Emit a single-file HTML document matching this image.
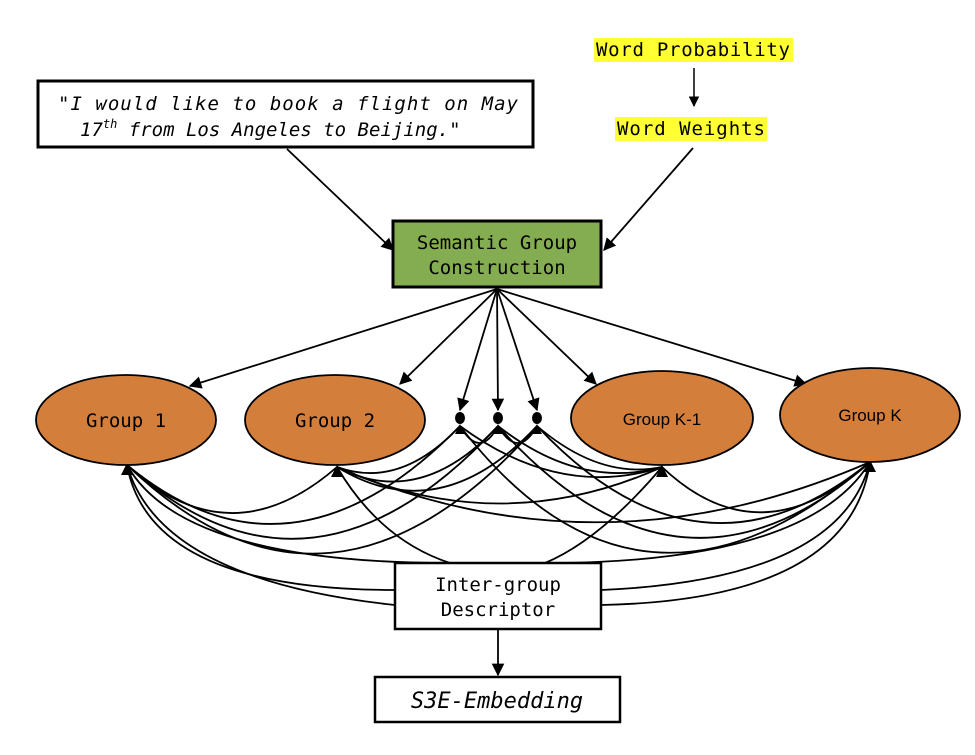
<!DOCTYPE html>
<html><head><style>
body{margin:0;background:#fff}
svg text{font-family:"DejaVu Sans Mono","Liberation Mono",monospace;font-size:19px;fill:#000}
</style></head><body>
<svg width="975" height="750" xmlns="http://www.w3.org/2000/svg">
<defs><marker id="a" viewBox="0 0 10 10" refX="9" refY="5" markerWidth="7" markerHeight="7" orient="auto"><path d="M0,0 L10,5 L0,10 z" fill="#000"/></marker></defs>
<rect x="594" y="38" width="199" height="24" fill="#ffff33"/>
<rect x="615" y="117" width="152" height="24" fill="#ffff33"/>
<text x="596" y="56" textLength="194">Word Probability</text>
<text x="617" y="135" textLength="148">Word Weights</text>
<line x1="694" y1="68" x2="694" y2="106" stroke="#000" stroke-width="1.5" marker-end="url(#a)"/>
<rect x="38" y="81" width="495" height="66" fill="#fff" stroke="#000" stroke-width="3"/>
<text x="58" y="110" font-style="italic" textLength="460">"I would like to book a flight on May</text>
<text x="80" y="136" font-style="italic">17<tspan font-size="12" dy="-8">th</tspan><tspan dy="8"> from Los Angeles to Beijing."</tspan></text>
<line x1="287" y1="149" x2="393" y2="250" stroke="#000" stroke-width="1.8" marker-end="url(#a)"/>
<line x1="693" y1="148" x2="604" y2="250" stroke="#000" stroke-width="1.8" marker-end="url(#a)"/>
<rect x="393" y="221" width="208" height="66" fill="#84ac50" stroke="#000" stroke-width="3"/>
<text x="497" y="249" text-anchor="middle">Semantic Group</text>
<text x="497" y="274" text-anchor="middle">Construction</text>
<g stroke="#000" stroke-width="1.8" marker-end="url(#a)">
<line x1="497" y1="289" x2="190" y2="386"/>
<line x1="497" y1="289" x2="400" y2="384"/>
<line x1="497" y1="289" x2="460" y2="410"/>
<line x1="497" y1="289" x2="498" y2="410"/>
<line x1="497" y1="289" x2="537" y2="410"/>
<line x1="497" y1="289" x2="596" y2="384"/>
<line x1="497" y1="289" x2="806" y2="384"/>
</g>
<g fill="none" stroke="#000" stroke-width="1.8">
<path d="M127,465 Q230,560 337,467"/>
<path d="M127,465 Q290,600 460,426"/>
<path d="M127,465 Q310,630 498,426"/>
<path d="M127,465 Q330,660 537,426"/>
<path d="M127,465 Q160,580 395,605"/>
<path d="M127,465 Q150,590 395,590"/>
<path d="M127,465 Q180,560 435,563"/>
<path d="M337,467 Q400,490 460,426"/>
<path d="M337,467 Q420,510 498,426"/>
<path d="M337,467 Q440,530 537,426"/>
<path d="M337,467 Q500,540 662,467"/>
<path d="M337,467 Q600,580 870,462"/>
<path d="M337,467 Q380,540 450,563"/>
<path d="M460,426 Q480,460 498,426"/>
<path d="M498,426 Q518,460 537,426"/>
<path d="M460,426 Q560,500 662,467"/>
<path d="M498,426 Q580,490 662,467"/>
<path d="M537,426 Q600,480 662,467"/>
<path d="M460,426 Q640,660 870,462"/>
<path d="M498,426 Q680,630 870,462"/>
<path d="M537,426 Q700,600 870,462"/>
<path d="M662,467 Q760,560 870,462"/>
<path d="M662,467 Q600,540 545,563"/>
<path d="M870,462 Q840,580 601,590"/>
<path d="M870,462 Q850,600 601,605"/>
<path d="M870,462 Q810,560 560,563"/>
</g>
<g fill="#000">
<path d="M127,463 l-6,12 l12,0z"/><path d="M337,465 l-6,12 l12,0z"/><path d="M662,465 l-6,12 l12,0z"/><path d="M870,460 l-6,12 l12,0z"/>
<path d="M460,424 l-5,10 l10,0z"/><path d="M498,424 l-5,10 l10,0z"/><path d="M537,424 l-5,10 l10,0z"/>
<ellipse cx="460" cy="418" rx="5" ry="6"/><ellipse cx="498" cy="418" rx="5" ry="6"/><ellipse cx="537" cy="418" rx="5" ry="6"/>
</g>
<g fill="#d47e3c" stroke="#000" stroke-width="1.8">
<ellipse cx="126" cy="420" rx="90" ry="45"/>
<ellipse cx="335" cy="420" rx="90" ry="45"/>
<ellipse cx="662" cy="418" rx="91" ry="47"/>
<ellipse cx="870" cy="415" rx="90" ry="47"/>
</g>
<text x="126" y="427" text-anchor="middle">Group 1</text>
<text x="335" y="427" text-anchor="middle">Group 2</text>
<text x="662" y="425" text-anchor="middle" style="font-family:'Liberation Sans',sans-serif;font-size:17px">Group K-1</text>
<text x="870" y="421" text-anchor="middle" style="font-family:'Liberation Sans',sans-serif;font-size:17px">Group K</text>
<rect x="395" y="563" width="206" height="66" fill="#fff" stroke="#000" stroke-width="2.5"/>
<text x="498" y="591" text-anchor="middle">Inter-group</text>
<text x="498" y="616" text-anchor="middle">Descriptor</text>
<line x1="498" y1="630" x2="498" y2="675" stroke="#000" stroke-width="1.8" marker-end="url(#a)"/>
<rect x="375" y="677" width="245" height="45" fill="#fff" stroke="#000" stroke-width="2.5"/>
<text x="497" y="708" text-anchor="middle" font-style="italic" style="font-size:22px">S3E-Embedding</text>
</svg>
</body></html>
